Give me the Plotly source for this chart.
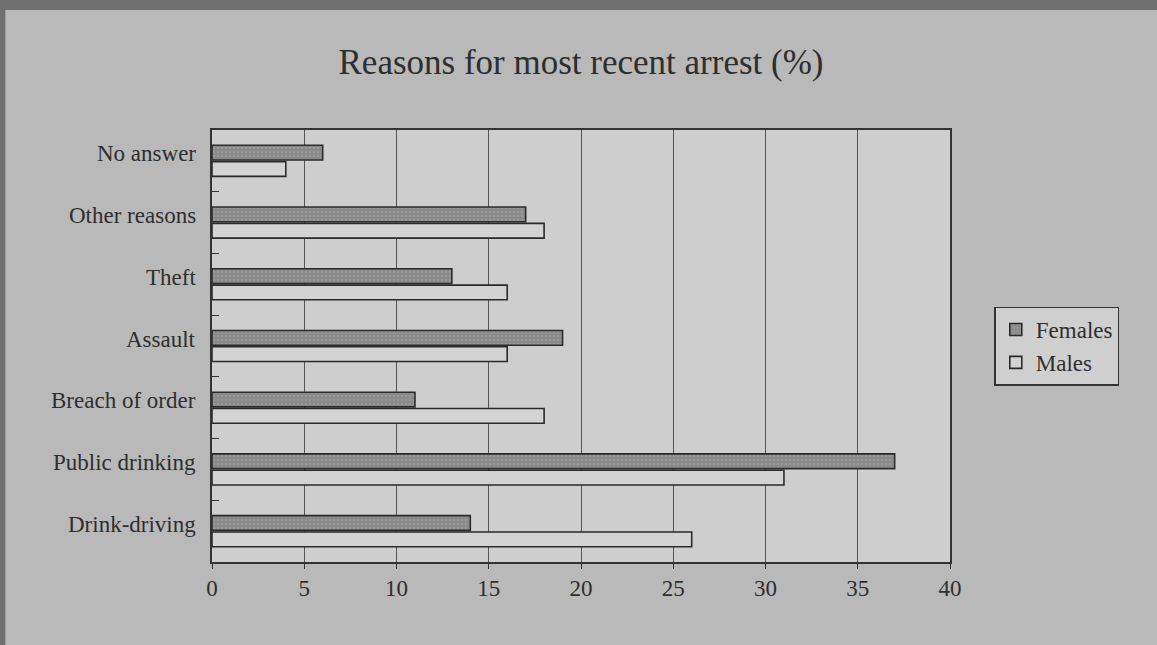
import plotly.graph_objects as go

categories = ["No answer", "Other reasons", "Theft", "Assault", "Breach of order",
              "Public drinking", "Drink-driving"]
females = [6, 17, 13, 19, 11, 37, 14]
males = [4, 18, 16, 16, 18, 31, 26]
x_ticks = [0, 5, 10, 15, 20, 25, 30, 35, 40]

FONT = "Liberation Serif"
INK = "#2e2e2e"

fig = go.Figure()
fig.add_trace(go.Bar(
    y=categories, x=females, name="Females", orientation="h",
    marker=dict(color="#8a8a8a", line=dict(color="#2a2a2a", width=1.6),
                pattern=dict(shape=".", fgcolor="#a8a8a8", size=4, solidity=0.3)),
))
fig.add_trace(go.Bar(
    y=categories, x=males, name="Males", orientation="h",
    marker=dict(color="#d3d3d3", line=dict(color="#2a2a2a", width=1.6)),
))

# category labels, sitting slightly above the band centre as in the original
for c in categories:
    fig.add_annotation(x=0, xref="paper", y=c, yref="y", text=c, showarrow=False,
                       xanchor="right", yanchor="middle", xshift=-14, yshift=7,
                       font=dict(family=FONT, size=23, color=INK))

# dark photo frame along the top and left edges
fig.add_shape(type="rect", xref="paper", yref="paper", x0=-0.30, x1=1.30,
              y0=1.278, y1=1.32, fillcolor="#6f6f6f", line_width=0, layer="above")
fig.add_shape(type="rect", xref="paper", yref="paper", x0=-0.30, x1=-0.280,
              y0=-0.25, y1=1.32, fillcolor="#6f6f6f", line_width=0, layer="above")

fig.update_layout(
    width=1157, height=645,
    paper_bgcolor="#b9b9b9",
    plot_bgcolor="#cecece",
    margin=dict(l=212, r=207, t=130, b=83),
    font=dict(family=FONT, color=INK, size=23),
    title=dict(text="Reasons for most recent arrest (%)", x=0.5, xref="paper",
               y=0.904, yref="container", yanchor="middle",
               font=dict(family=FONT, size=35, color=INK)),
    barmode="group", bargap=0.47, bargroupgap=0.1,
    legend=dict(x=1.06, xanchor="left", y=0.5, yanchor="middle",
                bgcolor="#cfcfcf", bordercolor="#333333", borderwidth=1.5,
                font=dict(family=FONT, size=23, color=INK), traceorder="normal"),
    showlegend=True,
)
fig.update_xaxes(range=[0, 40], tickvals=x_ticks, showgrid=True, gridcolor="#555555",
                 gridwidth=1, showline=True, linecolor="#333333", linewidth=1.5,
                 mirror=True, ticks="outside", ticklen=5, tickcolor="#333333",
                 zeroline=False, tickfont=dict(size=23))
fig.update_yaxes(autorange="reversed", showline=True, linecolor="#333333", linewidth=1.5,
                 mirror=True, ticks="inside", tickson="boundaries", ticklen=7,
                 tickcolor="#333333", showgrid=False, showticklabels=False)

fig.write_html("out.html", config={"displayModeBar": False},
               post_script="document.body.style.margin='0';")
